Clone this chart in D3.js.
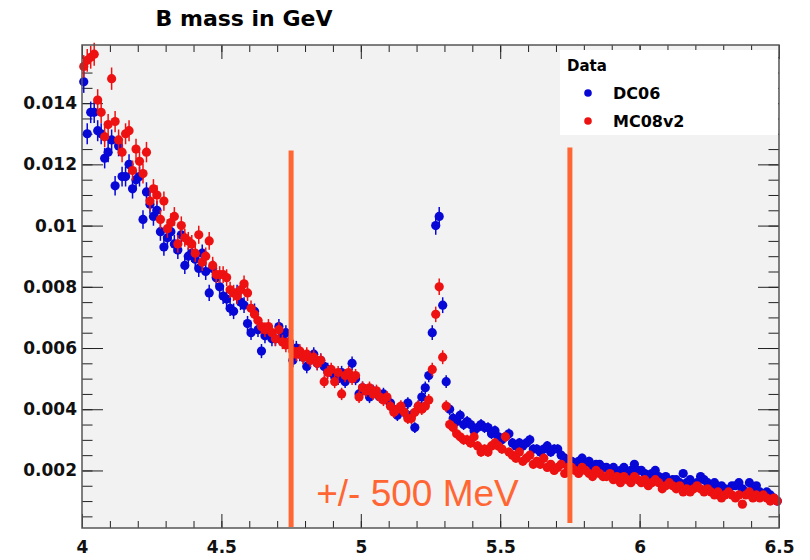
<!DOCTYPE html>
<html>
<head>
<meta charset="utf-8">
<script src="https://cdn.jsdelivr.net/npm/d3@7"></script>
<style>
  body { margin: 0; background: #fff; }
  text { font-family: "DejaVu Sans", sans-serif; }
</style>
</head>
<body>
<div id="chart"></div>
<script>

// histogram binning (200 bins from 4 to 6.5 GeV)
var binStart = 4.0
var binWidth = 0.0125

// normalised entries per bin, DC06 (blue)
var dc06 = [
  0.0147, 0.0130, 0.0137, 0.0137, 0.0131, 0.0130, 0.0122, 0.0124, 0.0128, 0.0113,
  0.0126, 0.0116, 0.0116, 0.0120, 0.0112, 0.0115, 0.0116, 0.0102, 0.0111, 0.0107,
  0.0103, 0.0105, 0.0098, 0.0093, 0.0096, 0.0098, 0.0094, 0.0092, 0.0097, 0.0087,
  0.0090, 0.0091, 0.0089, 0.0086, 0.0091, 0.0085, 0.0078, 0.0086, 0.0083, 0.0080,
  0.0077, 0.0076, 0.0073, 0.0072, 0.0078, 0.0075, 0.0074, 0.0068, 0.0065, 0.0072,
  0.0066, 0.0059, 0.0064, 0.0065, 0.0063, 0.0063, 0.0067, 0.0064, 0.0065, 0.0062,
  0.0056, 0.0060, 0.0058, 0.0057, 0.0054, 0.0056, 0.0058, 0.0055, 0.0056, 0.0054,
  0.0053, 0.0052, 0.0051, 0.0050, 0.0052, 0.0049, 0.0051, 0.0055, 0.0050, 0.0045,
  0.0047, 0.0046, 0.0044, 0.0046, 0.0045, 0.0044, 0.0045, 0.0043, 0.0042, 0.0040,
  0.0038, 0.0040, 0.0039, 0.0042, 0.0038, 0.0034, 0.0041, 0.0044, 0.0047, 0.0051,
  0.0065, 0.0100, 0.0103, 0.0074, 0.0049, 0.0040, 0.0037, 0.0036, 0.0038, 0.0035,
  0.0036, 0.0035, 0.0033, 0.0034, 0.0035, 0.0034, 0.0034, 0.0032, 0.0033, 0.0031,
  0.0030, 0.0031, 0.0032, 0.0029, 0.0028, 0.0029, 0.0028, 0.0029, 0.0030, 0.0027,
  0.0027, 0.0026, 0.0027, 0.0028, 0.0026, 0.0027, 0.0027, 0.0025, 0.0024, 0.0023,
  0.0023, 0.0022, 0.0023, 0.0024, 0.0022, 0.0023, 0.0021, 0.0022, 0.0022, 0.0021,
  0.0021, 0.0020, 0.0021, 0.0019, 0.0020, 0.0021, 0.0019, 0.0020, 0.0022, 0.0020,
  0.0020, 0.0019, 0.0018, 0.0019, 0.0020, 0.0018, 0.0017, 0.0018, 0.0016, 0.0017,
  0.0017, 0.0016, 0.0019, 0.0016, 0.0017, 0.0015, 0.0016, 0.0018, 0.0017, 0.0016,
  0.0015, 0.0016, 0.0014, 0.0015, 0.0014, 0.0013, 0.0015, 0.0015, 0.0016, 0.0014,
  0.0013, 0.0016, 0.0014, 0.0015, 0.0013, 0.0012, 0.0013, 0.0012, 0.0011, 0.0010
]

// normalised entries per bin, MC08v2 (red)
var mc08 = [
  0.0152, 0.0154, 0.0155, 0.0156, 0.0141, 0.0137, 0.0129, 0.0133, 0.0148, 0.0134,
  0.0128, 0.0124, 0.0130, 0.0131, 0.0118, 0.0125, 0.0121, 0.0117, 0.0124, 0.0108,
  0.0112, 0.0110, 0.0102, 0.0108, 0.0099, 0.0101, 0.0103, 0.0094, 0.0100, 0.0096,
  0.0095, 0.0094, 0.0091, 0.0097, 0.0088, 0.0090, 0.0095, 0.0087, 0.0084, 0.0084,
  0.0084, 0.0083, 0.0079, 0.0078, 0.0077, 0.0079, 0.0081, 0.0078, 0.0073, 0.0071,
  0.0069, 0.0067, 0.0066, 0.0067, 0.0065, 0.0063, 0.0066, 0.0062, 0.0061, 0.0062,
  0.0059, 0.0058, 0.0059, 0.0057, 0.0058, 0.0056, 0.0057, 0.0055, 0.0056, 0.0049,
  0.0052, 0.0053, 0.0049, 0.0052, 0.0045, 0.0051, 0.0052, 0.0050, 0.0051, 0.0044,
  0.0047, 0.0046, 0.0047, 0.0045, 0.0046, 0.0044, 0.0043, 0.0044, 0.0041, 0.0039,
  0.0040, 0.0041, 0.0039, 0.0037, 0.0037, 0.0039, 0.0041, 0.0040, 0.0041, 0.0043,
  0.0053, 0.0071, 0.0080, 0.0057, 0.0041, 0.0035, 0.0034, 0.0032, 0.0031, 0.0030,
  0.0030, 0.0029, 0.0031, 0.0028, 0.0026, 0.0027, 0.0026, 0.0028, 0.0029, 0.0028,
  0.0027, 0.0031, 0.0026, 0.0025, 0.0024, 0.0026, 0.0023, 0.0024, 0.0025, 0.0022,
  0.0023, 0.0022, 0.0024, 0.0021, 0.0022, 0.0020, 0.0021, 0.0022, 0.0019, 0.0021,
  0.0021, 0.0020, 0.0019, 0.0021, 0.0020, 0.0019, 0.0018, 0.0020, 0.0019, 0.0018,
  0.0018, 0.0019, 0.0017, 0.0018, 0.0016, 0.0018, 0.0017, 0.0016, 0.0018, 0.0017,
  0.0016, 0.0017, 0.0015, 0.0016, 0.0017, 0.0016, 0.0014, 0.0015, 0.0016, 0.0015,
  0.0014, 0.0015, 0.0013, 0.0014, 0.0013, 0.0014, 0.0015, 0.0014, 0.0013, 0.0014,
  0.0013, 0.0012, 0.0013, 0.0011, 0.0012, 0.0013, 0.0012, 0.0011, 0.0012, 0.0009,
  0.0012, 0.0013, 0.0011, 0.0012, 0.0011, 0.0012, 0.0011, 0.0010, 0.0011, 0.0010
]

// axis labels
var xTicks = [4, 4.5, 5, 5.5, 6, 6.5]
var yTicks = [0.002, 0.004, 0.006, 0.008, 0.01, 0.012, 0.014]

// mass window markers and legend
var windowEdges = [4.75, 5.75]
var windowLabel = "+/- 500 MeV"
var seriesNames = ["DC06", "MC08v2"]
var seriesColors = ["#0707d6", "#ee1111"]


var width = 810, height = 560

var svg = d3.select("#chart").append("svg")
  .attr("width", width)
  .attr("height", height)

var x = d3.scaleLinear().domain([4, 6.5]).range([82, 779])
var y = d3.scaleLinear().domain([0.00012, 0.0159]).range([528, 45])

// frame background
svg.append("rect")
  .attr("x", x(4)).attr("y", y(0.0159))
  .attr("width", x(6.5) - x(4))
  .attr("height", y(0.00012) - y(0.0159))
  .attr("fill", "#f2f2f2")

// title
svg.append("text")
  .attr("x", 244).attr("y", 26)
  .attr("text-anchor", "middle")
  .style("font-size", "22px")
  .style("font-weight", "bold")
  .text("B mass in GeV")

// minor tick positions
var xMinor = d3.range(0, 26).map(function(i){ return 4 + i * 0.1 })
var yMinor = d3.range(1, 32).map(function(i){ return i * 0.0005 })

// draw an axis without the domain line
function drawAxis(axis, tx, ty){
  var g = svg.append("g")
    .attr("transform", "translate(" + tx + "," + ty + ")")
    .call(axis)
  g.select(".domain").remove()
  g.selectAll("line").attr("stroke", "#222")
  return g
}

// bottom + top axes
drawAxis(d3.axisBottom(x).tickValues(xMinor).tickSize(-7).tickFormat(""), 0, 528)
drawAxis(d3.axisTop(x).tickValues(xMinor).tickSize(-7).tickFormat(""), 0, 45)
drawAxis(d3.axisTop(x).tickValues(xTicks).tickSize(-14).tickFormat(""), 0, 45)
var xAxis = drawAxis(d3.axisBottom(x).tickValues(xTicks).tickSize(-14)
  .tickPadding(13).tickFormat(d3.format("")), 0, 528)
xAxis.selectAll("text")
  .style("font-size", "17px").style("font-weight", "bold")
  .attr("fill", "#111").style("font-family", "DejaVu Sans")

// left + right axes
drawAxis(d3.axisLeft(y).tickValues(yMinor).tickSize(-10.5).tickFormat(""), 82, 0)
drawAxis(d3.axisRight(y).tickValues(yMinor).tickSize(-10.5).tickFormat(""), 779, 0)
drawAxis(d3.axisRight(y).tickValues(yTicks).tickSize(-21).tickFormat(""), 779, 0)
var yAxis = drawAxis(d3.axisLeft(y).tickValues(yTicks).tickSize(-21)
  .tickPadding(5).tickFormat(d3.format("")), 82, 0)
yAxis.selectAll("text")
  .style("font-size", "17px").style("font-weight", "bold")
  .attr("fill", "#111").style("font-family", "DejaVu Sans")

// histogram points with poisson-like error bars
function drawSeries(values, color){
  var pts = values.map(function(v, i){
    return { m: binStart + binWidth * (i + 0.5), v: v, e: 0.003 * Math.sqrt(v) }
  })
  var g = svg.append("g")
  g.selectAll("line")
    .data(pts)
    .enter().append("line")
      .attr("x1", function(d){ return x(d.m) })
      .attr("x2", function(d){ return x(d.m) })
      .attr("y1", function(d){ return y(d.v - d.e) })
      .attr("y2", function(d){ return y(d.v + d.e) })
      .attr("stroke", color)
      .attr("stroke-width", 1.5)
  g.selectAll("circle")
    .data(pts)
    .enter().append("circle")
      .attr("cx", function(d){ return x(d.m) })
      .attr("cy", function(d){ return y(d.v) })
      .attr("r", 4.6)
      .attr("fill", color)
}

drawSeries(dc06, seriesColors[0])
drawSeries(mc08, seriesColors[1])

// frame
svg.append("rect")
  .attr("x", x(4)).attr("y", y(0.0159))
  .attr("width", x(6.5) - x(4))
  .attr("height", y(0.00012) - y(0.0159))
  .attr("fill", "none")
  .attr("stroke", "#555")
  .attr("stroke-width", 1.5)

// orange mass window lines
svg.selectAll(".window")
  .data(windowEdges)
  .enter().append("line")
    .attr("class", "window")
    .attr("x1", function(d){ return x(d) })
    .attr("x2", function(d){ return x(d) })
    .attr("y1", function(d, i){ return i == 0 ? y(0.01245) : y(0.01255) })
    .attr("y2", function(d, i){ return i == 0 ? y(0.00015) : y(0.00028) })
    .attr("stroke", "#ff6633")
    .attr("stroke-width", 5)

svg.append("text")
  .attr("x", x(4.84)).attr("y", y(0.00084))
  .style("font-family", "Liberation Sans, Arial, sans-serif")
  .style("font-size", "37px")
  .attr("fill", "#ff6633")
  .text(windowLabel)

// legend
var legend = svg.append("g")
legend.append("rect")
  .attr("x", 560).attr("y", 50)
  .attr("width", 218).attr("height", 85)
  .attr("fill", "white")

legend.append("text")
  .attr("x", 567).attr("y", 71)
  .style("font-size", "15px").style("font-weight", "bold")
  .text("Data")

var entries = legend.selectAll(".entry")
  .data(seriesNames)
  .enter().append("g")
    .attr("class", "entry")
    .attr("transform", function(d, i){ return "translate(0," + (93 + i * 28) + ")" })

entries.append("circle")
  .attr("cx", 588).attr("cy", 0).attr("r", 3.8)
  .attr("fill", function(d, i){ return seriesColors[i] })

entries.append("text")
  .attr("x", 613).attr("y", 6)
  .style("font-size", "16px").style("font-weight", "bold")
  .text(function(d){ return d })

</script>
</body>
</html>
